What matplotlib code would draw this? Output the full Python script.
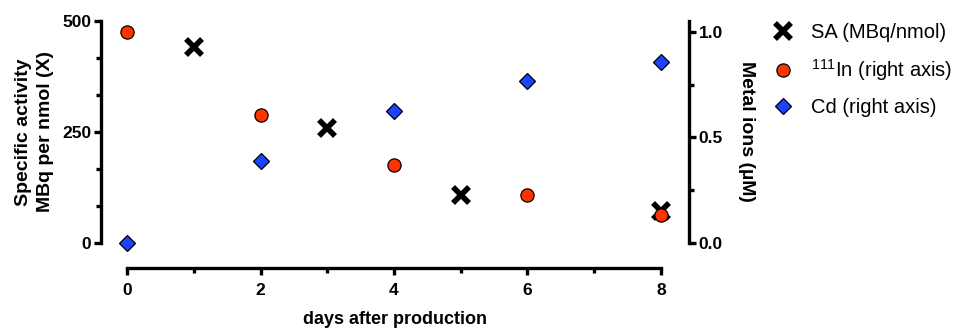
#!/usr/bin/env python3
import numpy as np
import matplotlib
matplotlib.use('Agg')
import matplotlib.pyplot as plt
from matplotlib.ticker import MultipleLocator

plt.rcParams['font.family'] = ['Liberation Sans', 'DejaVu Sans']
plt.rcParams['mathtext.default'] = 'regular'

# data
sa_days = [1, 3, 5, 8]
sa_vals = [441, 258, 109, 73]          # MBq/nmol, left axis
in_days = [0, 2, 4, 6, 8]
in_vals = [1.0, 0.606, 0.369, 0.227, 0.133]   # uM, right axis
cd_days = [0, 2, 4, 6, 8]
cd_vals = [0.0, 0.388, 0.626, 0.768, 0.858]   # uM, right axis

W, H = 958, 331
fig = plt.figure(figsize=(W/100, H/100), dpi=100)
ax = fig.add_axes([101/W, (H-243)/H, (689-101)/W, (243-20.7)/H])
ax2 = ax.twinx()

lw = 2.4
ax.plot(sa_days, sa_vals, ls='none', marker='x', ms=11, mew=4, color='black',
        label='SA (MBq/nmol)', clip_on=False, zorder=3)
ax2.plot(in_days, in_vals, ls='none', marker='o', ms=9.5, mfc='#ff3300', mec='black',
         mew=0.9, label=r'$^{111}$In (right axis)', clip_on=False, zorder=3)
ax2.plot(cd_days, cd_vals, ls='none', marker='D', ms=8, mfc='#1a44ff', mec='black',
         mew=0.9, label='Cd (right axis)', clip_on=False, zorder=3)

ax.set_xlim(-0.39, 8.42)
ax.set_ylim(0, 500)
ax2.set_ylim(0, 1.052)

for a in (ax, ax2):
    a.spines['top'].set_visible(False)
    for s in a.spines.values():
        s.set_linewidth(lw)
ax.spines['right'].set_visible(False)
ax2.spines['left'].set_visible(False)
ax2.spines['bottom'].set_visible(False)
ax.spines['bottom'].set_position(('outward', 18))
ax.spines['bottom'].set_bounds(0, 8)
ax.spines['left'].set_bounds(0, 500)
ax2.spines['right'].set_bounds(0, 1.052)

ax.set_xticks([0, 2, 4, 6, 8])
ax.xaxis.set_minor_locator(MultipleLocator(1))
ax.set_yticks([0, 250, 500])
ax.yaxis.set_minor_locator(MultipleLocator(250/3))
ax2.set_yticks([0.0, 0.5, 1.0])
ax2.set_yticklabels(['0.0', '0.5', '1.0'])
ax2.yaxis.set_minor_locator(MultipleLocator(0.25))

for a in (ax, ax2):
    a.tick_params(which='major', length=5, width=lw, labelsize=12.5, pad=2)
    a.tick_params(which='minor', length=3.5, width=lw)
    for t in a.get_xticklabels() + a.get_yticklabels():
        t.set_fontweight('bold')
ax.tick_params(axis='x', which='major', pad=6)

ax.set_xlabel('days after production', fontsize=13, fontweight='bold', labelpad=9)
ax.set_ylabel('Specific activity\nMBq per nmol (X)', fontsize=14, fontweight='bold',
              labelpad=6, linespacing=1.4)
ax2.set_ylabel('Metal ions (µM)', fontsize=14, fontweight='bold', rotation=-90,
               labelpad=23)

h1, l1 = ax.get_legend_handles_labels()
h2, l2 = ax2.get_legend_handles_labels()
fig.legend(h1 + h2, l1 + l2, loc='upper left', bbox_to_anchor=(763/W, 1 - 13/H),
           frameon=False, fontsize=14.5, handlelength=1.0, handletextpad=0.9,
           labelspacing=0.75, borderpad=0)

fig.savefig('out.png', dpi=100)
